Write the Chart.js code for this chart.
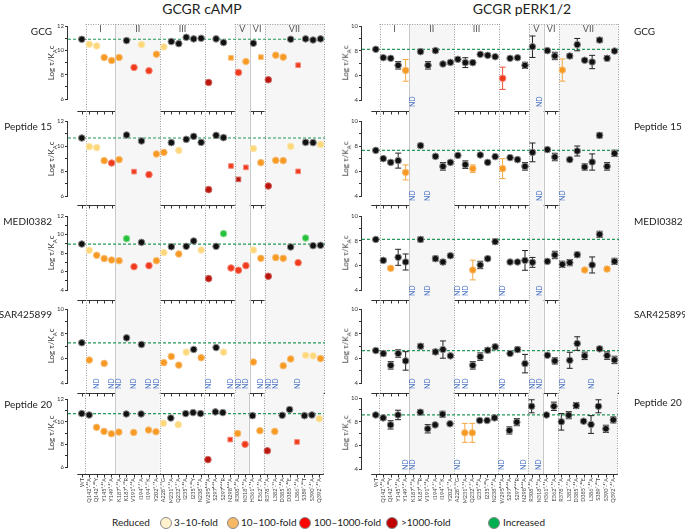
<!DOCTYPE html>
<html>
<head>
<meta charset="utf-8">
<script src="https://cdn.jsdelivr.net/npm/chart.js@4.4.1/dist/chart.umd.min.js"></script>
<style>
body { margin: 0; background: #fff; width: 685px; height: 530px; position: relative; overflow: hidden; font-family: Lato, "Open Sans", sans-serif; color: #222; }
canvas { position: absolute; }
.t { position: absolute; white-space: nowrap; }
.title { font-size: 14px; top: 0px; width: 200px; text-align: center; }
.row { font-size: 10px; }
.rl { text-align: right; width: 60px; }
.yt { font-size: 8px; transform: rotate(-90deg); transform-origin: center center; width: 60px; text-align: center; color: #333; }
.yt sub { font-size: 6px; }
.leg { position: absolute; top: 516px; font-size: 10px; white-space: nowrap; }
.dot { position: absolute; top: 517px; width: 12px; height: 12px; border-radius: 50%; box-sizing: border-box; border: 1px solid #8a8a8a; }
</style>
</head>
<body>
<div class="t title" style="left:102px">GCGR cAMP</div>
<div class="t title" style="left:422px">GCGR pERK1/2</div>

<div class="leg" style="left:112px">Reduced</div>
<div class="dot" style="left:160px;background:#fff2cc"></div><div class="leg" style="left:174px">3–10-fold</div>
<div class="dot" style="left:227px;background:#f8b967"></div><div class="leg" style="left:241px">10–100-fold</div>
<div class="dot" style="left:299px;background:#ff0000"></div><div class="leg" style="left:314px">100–1000-fold</div>
<div class="dot" style="left:386px;background:#c00000"></div><div class="leg" style="left:401px">&gt;1000-fold</div>
<div class="dot" style="left:488px;background:#00b050"></div><div class="leg" style="left:503px">Increased</div>

<script>
// mutants along the x axis (superscripts = Wootten numbering)
var mutants = ["WT", "Q142¹·⁴⁰A", "Q142¹·⁴⁰Y", "Y145¹·⁴³A", "Y149¹·⁴⁷A",
  "K187²·⁶⁰A", "K187²·⁶⁰R", "V191²·⁶⁴A", "I194²·⁶⁷A", "I194²·⁶⁷K", "Y202²·⁷⁵A",
  "A228³·³³G", "M231³·³⁶A", "Q232³·³⁷A", "I235³·⁴⁰A", "I235³·⁴⁰Y", "N238³·⁴³A",
  "W295ᴱᶜᴸ²A", "S297ᴱᶜᴸ²A", "S297ᴱᶜᴸ²R", "N298ᴱᶜᴸ²A", "R308⁵·⁴⁰A", "N318⁵·⁵⁰A",
  "H361⁶·⁵²A", "E362⁶·⁵³A", "R378⁷·³⁵A", "L382⁷·³⁹A", "D385⁷·⁴²A", "D385⁷·⁴²E",
  "L386⁷·⁴³A", "S389⁷·⁴⁶T", "S390⁷·⁴⁷A", "Q392⁷·⁴⁹A"];
var sectionEdges = [0.5, 4.5, 10.5, 16.5, 20.5, 22.5, 24.5, 32.5];
var sectionNames = ["I", "II", "III", "", "V", "VI", "VII"];
var ligands = ["GCG", "Peptide 15", "MEDI0382", "SAR425899", "Peptide 20"];

// cAMP, log tau/KA  (fold code: k none, y 3-10, o 10-100, r 100-1000, d >1000, g increased, x not determined)
var campGCG = [10.91, 10.5, 10.36, 9.41, 9.16, 9.41, 10.8, 8.59, 10.47, 8.32, 9.68, 10.28, 10.72, 10.55, 11.07, 10.94, 10.99, 7.36, 10.94, 10.64, 9.38, 8.18, 9.08, 10.58, 9.44, 7.58, 9.6, 9.44, 10.91, 8.78, 10.94, 10.85, 10.94];
var campGCGFold = "k y y o o o k r y r o y k k k k k d k k o r o k o d o o k r k k k";
var campGCGSquare = [20, 24, 29];
var campP15 = [10.64, 9.95, 9.87, 8.83, 8.64, 8.91, 10.88, 7.95, 10.4, 7.71, 9.36, 9.49, 10.27, 9.65, 10.53, 10.77, 10.29, 6.51, 10.85, 10.67, 8.4, 7.33, 8.29, 9.79, 8.67, 6.8, 8.85, 8.83, 9.97, 7.97, 10.29, 10.27, 10.13];
var campP15Fold = "k y y o r o k r k r o o k y k k k d k k r d r y o d o o y r k k y";
var campP15Square = [7, 20, 21, 22, 29];
var campMEDI = [8.97, 8.29, 7.75, 7.39, 7.24, 7.17, 9.55, 6.52, 9.15, 6.63, 7.17, 8.04, 8.68, 7.89, 8.72, 9.3, 8.32, 5.23, 8.72, 10.09, 6.38, 6.13, 6.63, 8.32, 7.42, 5.48, 7.5, 7.42, 8.65, 6.95, 9.62, 8.79, 8.83];
var campMEDIFold = "k y o o o o g r k r o y k o k k y d k g r r r y o d o o k r g k k";
var campMEDISquare = [];
var campSAR = [7.26, 5.86, null, 5.59, null, null, 7.66, null, 7.12, null, null, 5.65, 6.15, 5.45, 6.5, 6.72, 6.05, null, 6.87, 6.5, null, null, null, 5.7, null, null, null, 5.4, 5.95, null, 6.25, 6.2, 5.98];
var campSARFold = "k o x o x x k x k x x o o o y k o x k y x x x o x x x o o x y y o";
var campSARSquare = [];
var campP20 = [10.71, 10.59, 9.5, 9.14, 8.93, 9.08, 10.68, 9.05, 10.68, 9.26, 9.11, 9.86, 10.32, 9.74, 10.71, 10.8, 10.71, 6.65, 10.86, 10.8, 8.42, 8.96, 8.0, 10.53, 9.2, 7.43, 9.14, 10.56, 11.07, 8.21, 10.53, 10.59, 10.26];
var campP20Fold = "k k o o o o k o k o o y k y k k k d k k r o r k o d o k k r k k y";
var campP20Square = [20, 29];

// pERK1/2, log tau/KA with SEM (null = not determined)
var erkGCG = [8.11, 7.43, 7.38, 6.81, 6.4, null, 7.92, 6.81, 8.0, 6.92, 7.05, 7.3, 7.03, 7.03, 7.7, 7.62, 7.51, 5.76, 7.38, 7.43, 6.81, 8.32, null, 8.0, 7.57, 6.43, 7.57, 8.49, 7.22, 7.08, 8.86, 7.38, 7.97];
var erkGCGErr = [0.1, 0.12, 0.1, 0.3, 0.88, 0, 0.1, 0.3, 0.15, 0.12, 0.1, 0.15, 0.4, 0.15, 0.1, 0.1, 0.1, 0.9, 0.1, 0.1, 0.25, 0.87, 0, 0.1, 0.3, 0.9, 0.2, 0.5, 0.1, 0.54, 0.2, 0.2, 0.1];
var erkGCGFold = "k k k k o x k k k k k k k k k k k r k k k k x k k o k k k k k k k";
var erkP15 = [7.65, 6.99, 6.69, 6.83, 5.89, null, 8.03, null, 7.17, 6.37, 6.69, 7.25, 6.51, 6.19, 7.28, 6.69, 7.15, 6.19, 7.07, 6.91, 6.37, 7.49, null, 7.71, 7.12, null, 6.91, 7.6, 6.32, 6.72, 8.85, 6.37, 7.41];
var erkP15Err = [0.1, 0.12, 0.15, 0.6, 0.6, 0, 0.12, 0, 0.12, 0.3, 0.1, 0.12, 0.3, 0.3, 0.1, 0.1, 0.1, 0.8, 0.12, 0.1, 0.3, 0.75, 0, 0.12, 0.3, 0, 0.12, 0.4, 0.25, 0.65, 0.2, 0.3, 0.25];
var erkP15Fold = "k k k k o x k x k k k k k o k k k o k k k k x k k x k k k k k k k";
var erkMEDI = [8.1, 6.4, 5.76, 6.65, 6.27, null, 8.1, null, 6.54, 6.27, 6.78, null, null, 5.62, 6.03, 6.54, 7.92, null, 6.27, 6.27, 6.4, 6.24, null, 6.32, 6.84, 6.08, 6.22, 6.86, 5.62, 6.03, 8.51, 5.7, 6.32];
var erkMEDIErr = [0.1, 0.15, 0.15, 0.65, 0.65, 0, 0.2, 0, 0.2, 0.2, 0.15, 0, 0, 0.8, 0.3, 0.15, 0.2, 0, 0.1, 0.1, 0.8, 0.4, 0, 0.1, 0.3, 0.25, 0.25, 0.2, 0.15, 0.65, 0.25, 0.2, 0.25];
var erkMEDIFold = "k k o k k x k x k k k x x o k k k x k k k k x k k k k k o k k o k";
var erkSAR = [6.63, 6.39, 5.43, 6.39, 5.79, null, 6.98, null, 6.52, 6.71, 6.2, null, null, 5.43, 6.14, 6.66, 6.93, null, 6.39, 6.71, 5.57, null, null, 6.25, 5.79, null, 5.84, 7.2, 6.2, null, 6.77, 6.22, 5.87];
var erkSARErr = [0.1, 0.2, 0.3, 0.3, 0.75, 0, 0.2, 0, 0.2, 0.7, 0.1, 0, 0, 0.3, 0.3, 0.2, 0.2, 0, 0.12, 0.2, 0.75, 0, 0, 0.12, 0.25, 0, 0.65, 0.55, 0.3, 0, 0.15, 0.3, 0.3];
var erkSARFold = "k k k k k x k x k k k x x k k k k x k k k x x k k x k k k x k k k";
var erkP20 = [8.57, 8.32, 7.73, 8.57, null, null, 8.8, 7.4, 7.73, 8.63, 7.82, null, 7.06, 7.06, 8.1, 8.1, 8.32, null, 7.26, 7.96, null, 9.3, null, 8.57, 9.3, 7.99, 8.55, 9.36, 8.04, 7.76, 9.3, 7.4, 8.15];
var erkP20Err = [0.1, 0.15, 0.35, 0.4, 0, 0, 0.2, 0.35, 0.12, 0.25, 0.1, 0, 0.8, 0.8, 0.12, 0.12, 0.2, 0, 0.3, 0.3, 0, 0.55, 0, 0.12, 0.35, 0.7, 0.3, 0.25, 0.12, 0.75, 0.55, 0.3, 0.25];
var erkP20Fold = "k k k k x x k k k k k x o o k k k x k k x k x k k k k k k k k k k";

var FILL = {k: "#111111", y: "#fcd77c", o: "#f79a24", r: "#ef3a1e", d: "#b8160e", g: "#27c23b", x: "#000"};
var EDGE = {k: "#8c8c8c", y: "#fde7b0", o: "#f9bf7a", r: "#f58a78", d: "#d36b62", g: "#8fdc98", x: "#000"};
var BAR = {k: "#222222", y: "#f5c860", o: "#f5a840", r: "#f0503a", d: "#b8160e", g: "#27c23b", x: "#000"};

// panel geometry in page pixels: [top tick px, bottom tick px, x-axis px, canvas top, canvas bottom]
var rowsL = [[26, 99, 111, 12, 116], [121, 196, 205, 111, 210], [216, 290, 300, 205, 305], [309, 383, 393, 300, 398], [399, 467, 474, 393, 512]];
var rowsR = [[26, 100, 111, 12, 116], [121, 196, 205, 111, 210], [216, 290, 300, 205, 305], [309, 383, 393, 300, 398], [397, 469, 474, 393, 512]];
var ticksL = [[6, 12], [6, 12], [4, 12], [4, 10], [6, 12]];

function panelDecor(p) {
  return {
    id: "decor",
    beforeDatasetsDraw: function (chart) {
      var ctx = chart.ctx, a = chart.chartArea, xs = chart.scales.x, ys = chart.scales.y;
      var top = p.row === 0 ? 24 - p.top : 0;
      ctx.save();
      // shaded section boxes
      ctx.fillStyle = "#f6f6f6";
      [[4.5, 10.5], [20.5, 22.5], [24.5, 32.5]].forEach(function (s) {
        var x0 = xs.getPixelForValue(s[0]), x1 = xs.getPixelForValue(s[1]);
        ctx.fillRect(x0, top, x1 - x0, a.bottom - top);
      });
      // dividers
      sectionEdges.forEach(function (e) {
        var x = Math.round(xs.getPixelForValue(e)) + 0.5;
        var solid = e === 4.5 || e === 22.5;
        ctx.beginPath();
        ctx.setLineDash(solid ? [] : [1, 1.5]);
        ctx.strokeStyle = solid ? "#c8c8c8" : "#9a9a9a";
        ctx.lineWidth = 1;
        ctx.moveTo(x, top);
        ctx.lineTo(x, a.bottom);
        ctx.stroke();
      });
      if (p.row === 0) {
        ctx.setLineDash([1, 1.5]);
        ctx.strokeStyle = "#9a9a9a";
        [[0.5, 16.5], [20.5, 32.5]].forEach(function (s) {
          ctx.beginPath();
          ctx.moveTo(xs.getPixelForValue(s[0]), top + 0.5);
          ctx.lineTo(xs.getPixelForValue(s[1]), top + 0.5);
          ctx.stroke();
        });
      }
      // WT reference line
      var yw = ys.getPixelForValue(p.values[0]);
      ctx.beginPath();
      ctx.setLineDash([3, 2]);
      ctx.strokeStyle = "#23995a";
      ctx.lineWidth = 1.2;
      ctx.moveTo(a.left, yw);
      ctx.lineTo(a.right, yw);
      ctx.stroke();
      ctx.setLineDash([]);
      // error bars
      if (p.errors) {
        ctx.lineWidth = 1;
        p.values.forEach(function (v, i) {
          if (v === null || !p.errors[i]) return;
          var x = xs.getPixelForValue(i);
          var y0 = ys.getPixelForValue(v - p.errors[i]), y1 = ys.getPixelForValue(v + p.errors[i]);
          ctx.strokeStyle = BAR[p.fold[i]];
          ctx.beginPath();
          ctx.moveTo(x, y0); ctx.lineTo(x, y1);
          ctx.moveTo(x - 3, y0); ctx.lineTo(x + 3, y0);
          ctx.moveTo(x - 3, y1); ctx.lineTo(x + 3, y1);
          ctx.stroke();
        });
      }
      ctx.restore();
    },
    afterDraw: function (chart) {
      var ctx = chart.ctx, a = chart.chartArea, xs = chart.scales.x, ys = chart.scales.y;
      ctx.save();
      ctx.strokeStyle = "#333";
      ctx.lineWidth = 1;
      // y axis line only across the ticked range
      var xl = Math.round(a.left) - 0.5;
      ctx.beginPath();
      ctx.moveTo(xl, ys.getPixelForValue(p.hi));
      ctx.lineTo(xl, ys.getPixelForValue(p.lo));
      ctx.stroke();
      // offset x axis with a tick per mutant
      var yb = Math.round(a.bottom) + 0.5;
      ctx.beginPath();
      ctx.moveTo(xs.getPixelForValue(-0.6), yb);
      ctx.lineTo(a.right, yb);
      mutants.forEach(function (m, i) {
        var x = Math.round(xs.getPixelForValue(i)) + 0.5;
        ctx.moveTo(x, yb);
        ctx.lineTo(x, yb + 3);
      });
      ctx.stroke();
      // not determined
      ctx.fillStyle = "#4a72c4";
      ctx.font = "7px Lato, sans-serif";
      ctx.textBaseline = "middle";
      ctx.textAlign = "left";
      p.values.forEach(function (v, i) {
        if (v !== null) return;
        ctx.save();
        ctx.translate(xs.getPixelForValue(i), a.bottom - 4);
        ctx.rotate(-Math.PI / 2);
        ctx.fillText("ND", 0, 0);
        ctx.restore();
      });
      // section names on the first row
      if (p.row === 0) {
        ctx.fillStyle = "#555";
        ctx.font = "9px Lato, sans-serif";
        ctx.textAlign = "center";
        sectionNames.forEach(function (n, k) {
          if (!n) return;
          var xc = xs.getPixelForValue((sectionEdges[k] + sectionEdges[k + 1]) / 2);
          ctx.fillText(n, xc, 29 - p.top);
        });
      }
      ctx.restore();
    }
  };
}

function makePanel(p) {
  var cv = document.createElement("canvas");
  cv.width = 312;
  cv.height = p.bottom - p.top;
  cv.style.left = p.left + "px";
  cv.style.top = p.top + "px";
  document.body.appendChild(cv);

  var pts = [], bg = [], bd = [], st = [];
  p.values.forEach(function (v, i) {
    if (v === null) return;
    pts.push({x: i, y: v});
    bg.push(FILL[p.fold[i]]);
    bd.push(EDGE[p.fold[i]]);
    st.push(p.squares.indexOf(i) >= 0 ? "rect" : "circle");
  });
  var per = (p.yLo - p.yHi) / (p.hi - p.lo);
  var yMin = p.lo - (p.yAxis - p.yLo) / per;

  new Chart(cv, {
    type: "scatter",
    data: {datasets: [{data: pts, pointBackgroundColor: bg, pointBorderColor: bd, pointStyle: st,
      pointRadius: 3.3, pointBorderWidth: 1, clip: false}]},
    options: {
      responsive: false,
      animation: false,
      events: [],
      layout: {padding: {top: p.yHi - p.top, right: 2, left: 0, bottom: 0}},
      plugins: {legend: {display: false}, tooltip: {enabled: false}},
      scales: {
        x: {
          type: "linear", min: -1.85, max: 32.6,
          grid: {display: false, drawTicks: false},
          border: {display: false},
          afterBuildTicks: function (s) { s.ticks = mutants.map(function (m, i) { return {value: i}; }); },
          ticks: {display: p.labels, autoSkip: false, maxRotation: 90, minRotation: 90, padding: 4,
            font: {size: 5.5, family: "Lato, sans-serif"}, color: "#444",
            callback: function (v) { return mutants[v]; }},
          afterFit: function (s) { s.height = p.bottom - p.yAxis; }
        },
        y: {
          min: yMin, max: p.hi,
          grid: {drawOnChartArea: false, tickLength: 3, color: "#333"},
          border: {display: false},
          afterBuildTicks: function (s) {
            var t = [];
            for (var v = p.lo; v <= p.hi; v++) t.push({value: v});
            s.ticks = t;
          },
          ticks: {font: {size: 6, family: "Lato, sans-serif"}, color: "#333", padding: 1,
            callback: function (v) { return (v - p.lo) % 2 === 0 ? v : ""; }},
          afterFit: function (s) { s.width = 50; }
        }
      }
    },
    plugins: [panelDecor(p)]
  });
}

function addText(cls, html, left, top) {
  var d = document.createElement("div");
  d.className = "t " + cls;
  d.innerHTML = html;
  d.style.left = left + "px";
  d.style.top = top + "px";
  document.body.appendChild(d);
}

var campSets = [[campGCG, campGCGFold, campGCGSquare], [campP15, campP15Fold, campP15Square],
  [campMEDI, campMEDIFold, campMEDISquare], [campSAR, campSARFold, campSARSquare], [campP20, campP20Fold, campP20Square]];
var erkSets = [[erkGCG, erkGCGErr, erkGCGFold], [erkP15, erkP15Err, erkP15Fold], [erkMEDI, erkMEDIErr, erkMEDIFold],
  [erkSAR, erkSARErr, erkSARFold], [erkP20, erkP20Err, erkP20Fold]];
var ytitle = "Log τ/K<sub>A</sub>c";

for (var r = 0; r < 5; r++) {
  var g = rowsL[r];
  makePanel({row: r, left: 18, top: g[3], bottom: g[4], yHi: g[0], yLo: g[1], yAxis: g[2],
    hi: ticksL[r][1], lo: ticksL[r][0], values: campSets[r][0], fold: campSets[r][1].split(" "),
    squares: campSets[r][2], errors: null, labels: r === 4});
  var h = rowsR[r];
  makePanel({row: r, left: 312, top: h[3], bottom: h[4], yHi: h[0], yLo: h[1], yAxis: h[2],
    hi: 10, lo: 4, values: erkSets[r][0], fold: erkSets[r][2].split(" "),
    squares: [], errors: erkSets[r][1], labels: r === 4});

  addText("yt", ytitle, 22, (g[0] + g[1]) / 2 - 6);
  addText("yt", ytitle, 316, (h[0] + h[1]) / 2 - 6);
  addText("row rl", ligands[r], -8, g[0] - 1);
  addText("row", ligands[r], 634, h[0] - 1);
}
</script>
</body>
</html>
